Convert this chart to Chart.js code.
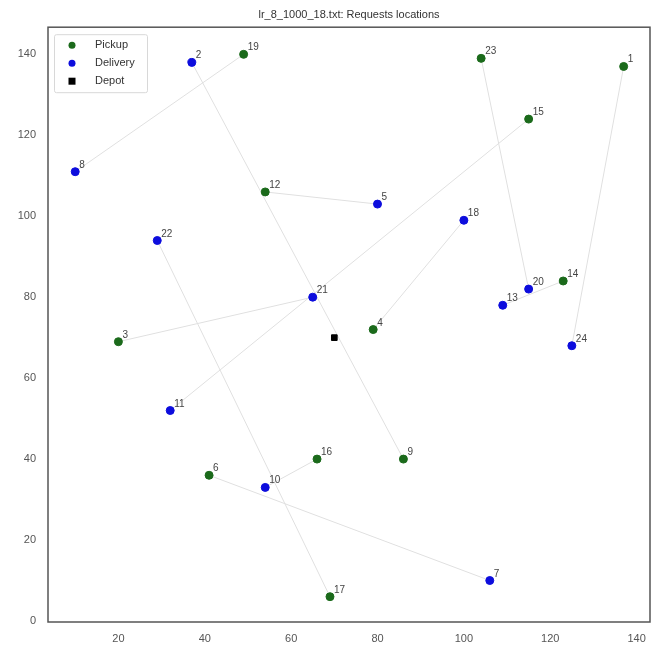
<!DOCTYPE html>
<html>
<head>
<meta charset="utf-8">
<title>Requests locations</title>
<script src="https://cdn.jsdelivr.net/npm/chart.js@4.4.1/dist/chart.umd.min.js"></script>
<style>
  html, body { margin: 0; padding: 0; background: #fff; }
  #locations-chart { display: block; }
</style>
</head>
<body>
<canvas id="locations-chart" width="656" height="646"></canvas>
<script>
// Data
const pickupIds = [1, 3, 4, 6, 9, 12, 14, 15, 16, 17, 19, 23];
const pickupX = [137, 20, 79, 41, 86, 54, 123, 115, 66, 69, 49, 104];
const pickupY = [137, 69, 72, 36, 40, 106, 84, 124, 40, 6, 140, 139];

const deliveryIds = [2, 5, 7, 8, 10, 11, 13, 18, 20, 21, 22, 24];
const deliveryX = [37, 80, 106, 10, 54, 32, 109, 100, 115, 65, 29, 125];
const deliveryY = [138, 103, 10, 111, 33, 52, 78, 99, 82, 80, 94, 68];

const depotX = [70];
const depotY = [70];

// pickup id -> delivery id
const routePairs = [
  [19, 8], [9, 2], [12, 5], [4, 18], [23, 20], [1, 24],
  [14, 13], [16, 10], [6, 7], [17, 22], [3, 21], [15, 11]
];

const xTicks = [20, 40, 60, 80, 100, 120, 140];
const yTicks = [0, 20, 40, 60, 80, 100, 120, 140];

const FONT = "'Liberation Sans', Arial, sans-serif";

document.addEventListener('DOMContentLoaded', () => {
  const chartEl = document.getElementById('locations-chart');
  if (!chartEl || typeof Chart === 'undefined') return;

  const toPoints = (xs, ys) => xs.map((x, i) => ({ x: x, y: ys[i] }));

  // lookup id -> location
  const lookup = {};
  pickupIds.forEach((id, i) => lookup[id] = { x: pickupX[i], y: pickupY[i] });
  deliveryIds.forEach((id, i) => lookup[id] = { x: deliveryX[i], y: deliveryY[i] });

  const lineSets = routePairs.map(([p, d]) => ({
    type: 'line',
    label: `route ${p}-${d}`,
    data: [lookup[p], lookup[d]],
    borderColor: '#e0e0e0',
    borderWidth: 1,
    pointRadius: 0,
    showLine: true,
    order: 10
  }));

  // 1. Frame round the plot area
  const framePlugin = {
    id: 'frame',
    beforeDatasetsDraw(chart) {
      const { ctx, chartArea: a } = chart;
      ctx.save();
      ctx.strokeStyle = '#555';
      ctx.lineWidth = 1.5;
      ctx.strokeRect(a.left, a.top, a.right - a.left, a.bottom - a.top);
      ctx.restore();
    }
  };

  // 2. Id labels next to each point
  const labelPlugin = {
    id: 'pointLabels',
    afterDatasetsDraw(chart) {
      const { ctx } = chart;
      ctx.save();
      ctx.font = `10px ${FONT}`;
      ctx.fillStyle = '#444';
      ctx.textAlign = 'left';
      ctx.textBaseline = 'alphabetic';
      [0, 1].forEach(idx => {
        const ids = idx === 0 ? pickupIds : deliveryIds;
        chart.getDatasetMeta(idx).data.forEach((pt, i) => {
          ctx.fillText(String(ids[i]), pt.x + 4, pt.y - 4);
        });
      });
      ctx.restore();
    }
  };

  // 3. Legend drawn inside the plot, top left
  const legendPlugin = {
    id: 'insideLegend',
    afterDraw(chart) {
      const { ctx, chartArea: a } = chart;
      const bx = a.left + 6, by = a.top + 7, bw = 93, bh = 58;
      ctx.save();
      ctx.fillStyle = 'rgba(255,255,255,0.9)';
      ctx.strokeStyle = '#d8d8d8';
      ctx.lineWidth = 1;
      ctx.beginPath();
      ctx.roundRect(bx + 0.5, by + 0.5, bw, bh, 2);
      ctx.fill();
      ctx.stroke();
      ctx.font = `11px ${FONT}`;
      ctx.textBaseline = 'middle';
      [0, 1, 2].forEach((idx, row) => {
        const ds = chart.data.datasets[idx];
        const cy = by + 11 + row * 18;
        const cx = bx + 18;
        ctx.fillStyle = ds.backgroundColor;
        if (ds.pointStyle === 'rect') {
          ctx.fillRect(cx - 3.5, cy - 3.5, 7, 7);
        } else {
          ctx.beginPath();
          ctx.arc(cx, cy, 3.5, 0, Math.PI * 2);
          ctx.fill();
        }
        ctx.fillStyle = '#333';
        ctx.fillText(ds.label, bx + 41, cy);
      });
      ctx.restore();
    }
  };

  new Chart(chartEl, {
    type: 'scatter',
    data: {
      datasets: [
        {
          label: 'Pickup',
          data: toPoints(pickupX, pickupY),
          backgroundColor: '#1b6a1b',
          borderColor: '#1b6a1b',
          pointRadius: 4,
          order: 0
        },
        {
          label: 'Delivery',
          data: toPoints(deliveryX, deliveryY),
          backgroundColor: '#0d0ddd',
          borderColor: '#0d0ddd',
          pointRadius: 4,
          order: 0
        },
        {
          label: 'Depot',
          data: toPoints(depotX, depotY),
          backgroundColor: '#000',
          borderColor: '#000',
          pointStyle: 'rect',
          pointRadius: 4,
          order: 0
        },
        ...lineSets
      ]
    },
    options: {
      responsive: false,
      animation: false,
      devicePixelRatio: 1,
      layout: { padding: { top: 0, right: 6, left: 0, bottom: 0 } },
      plugins: {
        legend: { display: false },
        tooltip: { enabled: false },
        title: {
          display: true,
          fullSize: false,
          text: 'lr_8_1000_18.txt: Requests locations',
          color: '#333',
          font: { family: FONT, size: 11, weight: 'normal' },
          padding: { top: 8, bottom: 6 }
        }
      },
      scales: {
        x: {
          type: 'linear',
          min: 3.7,
          max: 143.1,
          grid: { display: false, drawTicks: false },
          border: { display: false },
          afterBuildTicks: scale => { scale.ticks = xTicks.map(v => ({ value: v })); },
          afterFit: scale => { scale.height = 24; },
          ticks: {
            color: '#555',
            padding: 10,
            font: { family: FONT, size: 11 },
            maxRotation: 0
          }
        },
        y: {
          type: 'linear',
          min: -0.25,
          max: 146.7,
          grid: { display: false, drawTicks: false },
          border: { display: false },
          afterBuildTicks: scale => { scale.ticks = yTicks.map(v => ({ value: v })); },
          afterFit: scale => { scale.width = 48; },
          ticks: {
            color: '#555',
            padding: 12,
            font: { family: FONT, size: 11 }
          }
        }
      }
    },
    plugins: [framePlugin, labelPlugin, legendPlugin]
  });
});
</script>
</body>
</html>
